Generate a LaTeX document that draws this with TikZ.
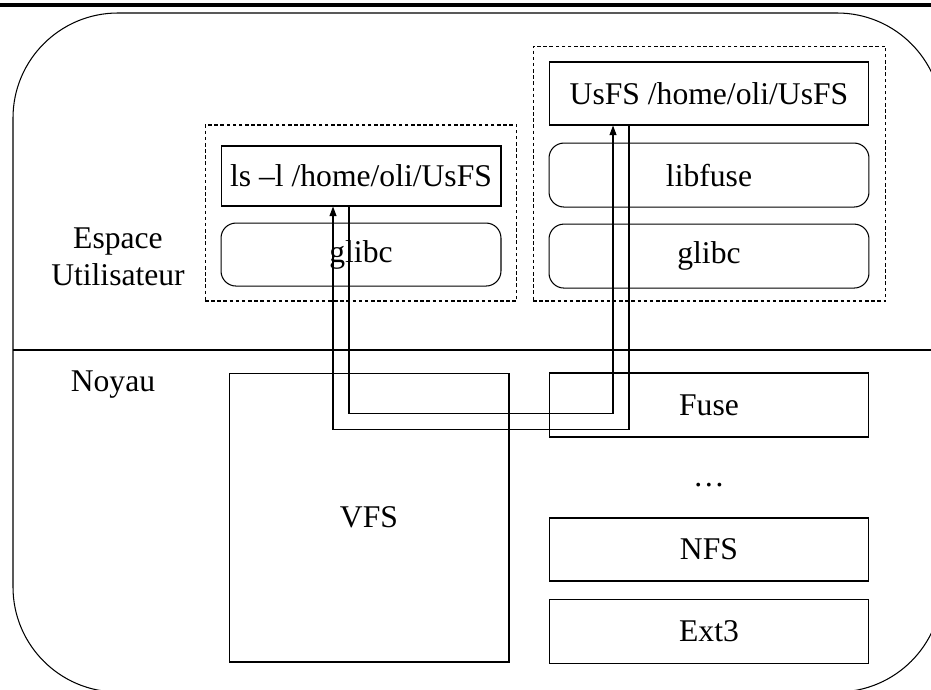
\documentclass[tikz,border=0pt]{standalone}
\usepackage{fontspec}
\setmainfont{Liberation Serif}
\usetikzlibrary{arrows.meta,positioning}

\begin{document}
\begin{tikzpicture}[
    x=0.02cm, y=-0.02cm,
    line width=0.6pt,
    node distance=0.32cm,
    every node/.style={font=\fontsize{18}{21}\selectfont},
    box/.style={rectangle, draw, minimum width=6.4cm, minimum height=1.28cm, inner sep=0pt, text centered},
    lib/.style={box, rounded corners=0.3cm},
    group/.style={rectangle, draw, dash pattern=on 2pt off 1.5pt, inner sep=0pt},
    flow/.style={-{Triangle[length=5.5pt,width=4pt]}}
]
\useasboundingbox (0,0) rectangle (931,690);
\begin{scope}
\clip (0,0) rectangle (931,690);
\draw[rounded corners=2.1cm] (13,13) rectangle (942,692);
\draw (13,350) -- (942,350);
\end{scope}
\draw[line width=1.9pt] (0,5) -- (931,5);

\node[align=center] (user) at (118,257) {Espace\\Utilisateur};
\node (kernel) at (113,385) {Noyau};

\node[group, minimum width=6.24cm, minimum height=3.52cm] (app) at (361,213) {};
\node[group, minimum width=7.06cm, minimum height=5.1cm] (daemon) at (709.5,173.5) {};

\node[box, minimum width=5.6cm, minimum height=1.2cm] (ls) at (361,176) {ls –l /home/oli/UsFS};
\node[lib, minimum width=5.6cm, minimum height=1.26cm, below=of ls] (glibcL) {glibc};
\node[box, minimum height=1.26cm] (usfs) at (709,93.5) {UsFS /home/oli/UsFS};
\node[lib, below=0.34cm of usfs] (libfuse) {libfuse};
\node[lib, below=of libfuse] (glibcR) {glibc};

\node[box, minimum width=5.6cm, minimum height=5.78cm] (vfs) at (369,517.5) {VFS};
\node[box] (fuse) at (709,405) {Fuse};
\node (dots) at (709,485) {…};
\node[box, minimum height=1.26cm] (nfs) at (709,549.5) {NFS};
\node[box, below=0.34cm of nfs] (ext3) {Ext3};

\draw[flow] ([xshift=-0.24cm]ls.south) -- ++(0,207) -| ([xshift=-1.92cm]usfs.south);
\draw[flow] ([xshift=-1.6cm]usfs.south) -- ++(0,304) -| ([xshift=-0.56cm]ls.south);
\end{tikzpicture}
\end{document}
